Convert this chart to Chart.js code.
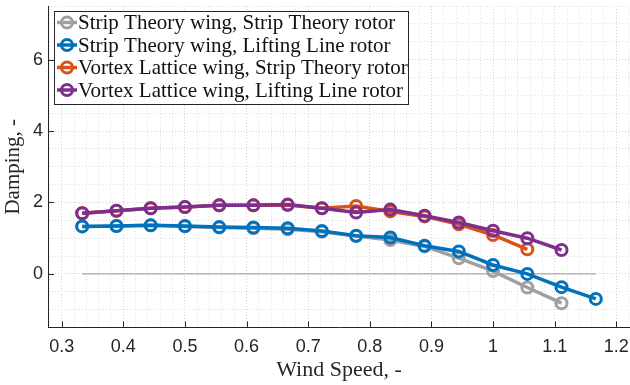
<!DOCTYPE html>
<html>
<head>
<meta charset="utf-8">
<script src="https://cdn.jsdelivr.net/npm/chart.js@4.4.0/dist/chart.umd.min.js"></script>
<style>
  html, body { margin: 0; padding: 0; background: #fff; }
</style>
</head>
<body>
<canvas id="myChart" width="630" height="385"></canvas>
<script>
// Wind speed samples (non-dimensional)
const windSpeed = [0.3333, 0.3889, 0.4444, 0.5, 0.5556, 0.6111, 0.6667, 0.7222,
                   0.7778, 0.8333, 0.8889, 0.9444, 1.0, 1.0556, 1.1111, 1.1667];

// Damping for each model combination
const stWingStRotor = [1.33, 1.34, 1.36, 1.33, 1.30, 1.28, 1.25, 1.18, 1.06, 0.95, 0.77, 0.44, 0.08, -0.38, -0.82];
const stWingLlRotor = [1.33, 1.34, 1.36, 1.34, 1.31, 1.30, 1.28, 1.20, 1.07, 1.02, 0.79, 0.63, 0.25, 0.00, -0.37, -0.70];
const vlWingStRotor = [1.70, 1.77, 1.84, 1.87, 1.92, 1.92, 1.93, 1.84, 1.90, 1.75, 1.61, 1.39, 1.09, 0.69];
const vlWingLlRotor = [1.70, 1.77, 1.84, 1.87, 1.92, 1.92, 1.94, 1.84, 1.72, 1.80, 1.63, 1.44, 1.21, 1.00, 0.67];

// zero reference line
const zeroLineX = [0.3333, 1.1667];
const zeroLineY = [0, 0];

const seriesNames = [
    "Strip Theory wing, Strip Theory rotor",
    "Strip Theory wing, Lifting Line rotor",
    "Vortex Lattice wing, Strip Theory rotor",
    "Vortex Lattice wing, Lifting Line rotor"
];
const seriesColors = ["#a0a0a0", "#0072bd", "#d95319", "#7e2f8e"];

// Tick labels
const xTicks = [0.3, 0.4, 0.5, 0.6, 0.7, 0.8, 0.9, 1.0, 1.1, 1.2];
const xTickLabels = ["0.3", "0.4", "0.5", "0.6", "0.7", "0.8", "0.9", "1", "1.1", "1.2"];
const yTicks = [0, 2, 4, 6];
const yTickLabels = ["0", "2", "4", "6"];

const X_MIN = 0.2778, X_MAX = 1.2222;
const Y_MIN = -1.5, Y_MAX = 7.5;

const toPoints = (vals) => vals.map((v, i) => ({ x: windSpeed[i], y: v }));

const isMajor = (v, list) => list.findIndex(t => Math.abs(t - v) < 1e-6);

const seriesData = [stWingStRotor, stWingLlRotor, vlWingStRotor, vlWingLlRotor];

const datasets = seriesData.map((vals, i) => ({
    label: seriesNames[i],
    data: toPoints(vals),
    borderColor: seriesColors[i],
    pointBorderColor: seriesColors[i],
    pointBackgroundColor: "rgba(255,255,255,0)",
    borderWidth: 3.5,
    pointRadius: 5.5,
    pointBorderWidth: 3,
    tension: 0,
    order: 4 - i,
    inLegend: true
}));

datasets.push({
    label: "zero",
    data: zeroLineX.map((x, i) => ({ x: x, y: zeroLineY[i] })),
    borderColor: "#a8a8a8",
    borderWidth: 1.2,
    pointRadius: 0,
    order: 10,
    inLegend: false
});

// MATLAB-like inside tick marks
const insideTicks = {
    id: "insideTicks",
    afterDraw(chart) {
        const ctx = chart.ctx;
        const xs = chart.scales.x, ys = chart.scales.y;
        const area = chart.chartArea;
        ctx.save();
        ctx.strokeStyle = "#262626";
        ctx.lineWidth = 1;
        xTicks.forEach(t => {
            const px = Math.round(xs.getPixelForValue(t)) + 0.5;
            ctx.beginPath();
            ctx.moveTo(px, area.bottom);
            ctx.lineTo(px, area.bottom - 6);
            ctx.stroke();
        });
        yTicks.forEach(t => {
            const py = Math.round(ys.getPixelForValue(t)) + 0.5;
            ctx.beginPath();
            ctx.moveTo(area.left, py);
            ctx.lineTo(area.left + 6, py);
            ctx.stroke();
        });
        ctx.restore();
    }
};

// Boxed legend drawn inside the plot, top left
const boxLegend = {
    id: "boxLegend",
    afterDraw(chart) {
        const ctx = chart.ctx;
        const items = chart.data.datasets.filter(d => d.inLegend);
        const left = 54, top = 11, w = 354, h = 93;
        const rowH = 22.5;
        ctx.save();
        ctx.fillStyle = "#ffffff";
        ctx.fillRect(left, top, w, h);
        ctx.strokeStyle = "#262626";
        ctx.lineWidth = 1;
        ctx.strokeRect(left + 0.5, top + 0.5, w, h);

        ctx.font = "21px 'Liberation Serif', 'Times New Roman', serif";
        ctx.textBaseline = "middle";
        items.forEach((d, i) => {
            const cy = top + 11.5 + i * rowH;
            ctx.strokeStyle = d.borderColor;
            ctx.lineWidth = 3.5;
            ctx.beginPath();
            ctx.moveTo(57, cy);
            ctx.lineTo(77, cy);
            ctx.stroke();
            ctx.lineWidth = 3;
            ctx.beginPath();
            ctx.arc(67, cy, 5.5, 0, Math.PI * 2);
            ctx.stroke();
            ctx.fillStyle = "#111111";
            ctx.fillText(d.label, 78, cy + 1);
        });
        ctx.restore();
    }
};

const gridColor = (list) => (c) => {
    if (!c.tick) return "#e0e0e0";
    return isMajor(c.tick.value, list) >= 0 ? "#cfcfcf" : "#e0e0e0";
};

new Chart("myChart", {
    type: "line",
    data: { datasets: datasets },
    options: {
        responsive: false,
        animation: false,
        layout: { autoPadding: false, padding: { top: 6, right: 0, left: 0, bottom: 0 } },
        plugins: {
            legend: { display: false },
            tooltip: { enabled: false }
        },
        scales: {
            x: {
                type: "linear",
                min: X_MIN,
                max: X_MAX,
                afterBuildTicks(scale) {
                    const ticks = [];
                    for (let k = 14; k <= 61; k++) ticks.push({ value: k / 50 });
                    scale.ticks = ticks;
                },
                afterFit(scale) {
                    scale.height = 57.5;
                    scale.paddingLeft = 0;
                    scale.paddingRight = 0;
                },
                grid: { color: gridColor(xTicks), lineWidth: 1, drawTicks: false },
                border: { display: true, color: "#262626", width: 1, dash: [1, 2] },
                ticks: {
                    autoSkip: false,
                    maxRotation: 0,
                    padding: 9,
                    color: "#262626",
                    font: { family: "'Liberation Sans', Arial, sans-serif", size: 18 },
                    callback: (v) => {
                        const k = isMajor(v, xTicks);
                        return k >= 0 ? xTickLabels[k] : "";
                    }
                },
                title: {
                    display: true,
                    text: "Wind Speed, -",
                    color: "#262626",
                    padding: { top: 0, bottom: 2 },
                    font: { family: "'Liberation Serif', 'Times New Roman', serif", size: 22 }
                }
            },
            y: {
                type: "linear",
                min: Y_MIN,
                max: Y_MAX,
                afterBuildTicks(scale) {
                    const ticks = [];
                    for (let k = -3; k <= 15; k++) ticks.push({ value: k / 2 });
                    scale.ticks = ticks;
                },
                afterFit(scale) {
                    scale.width = 48;
                    scale.paddingTop = 0;
                    scale.paddingBottom = 0;
                },
                grid: { color: gridColor(yTicks), lineWidth: 1, drawTicks: false },
                border: { display: true, color: "#262626", width: 1, dash: [1, 2] },
                ticks: {
                    autoSkip: false,
                    padding: 5,
                    color: "#262626",
                    font: { family: "'Liberation Sans', Arial, sans-serif", size: 18 },
                    callback: (v) => {
                        const k = isMajor(v, yTicks);
                        return k >= 0 ? yTickLabels[k] : "";
                    }
                },
                title: {
                    display: true,
                    text: "Damping, -",
                    color: "#262626",
                    padding: { top: 1, bottom: 0 },
                    font: { family: "'Liberation Serif', 'Times New Roman', serif", size: 21 }
                }
            }
        }
    },
    plugins: [insideTicks, boxLegend]
});
</script>
</body>
</html>
